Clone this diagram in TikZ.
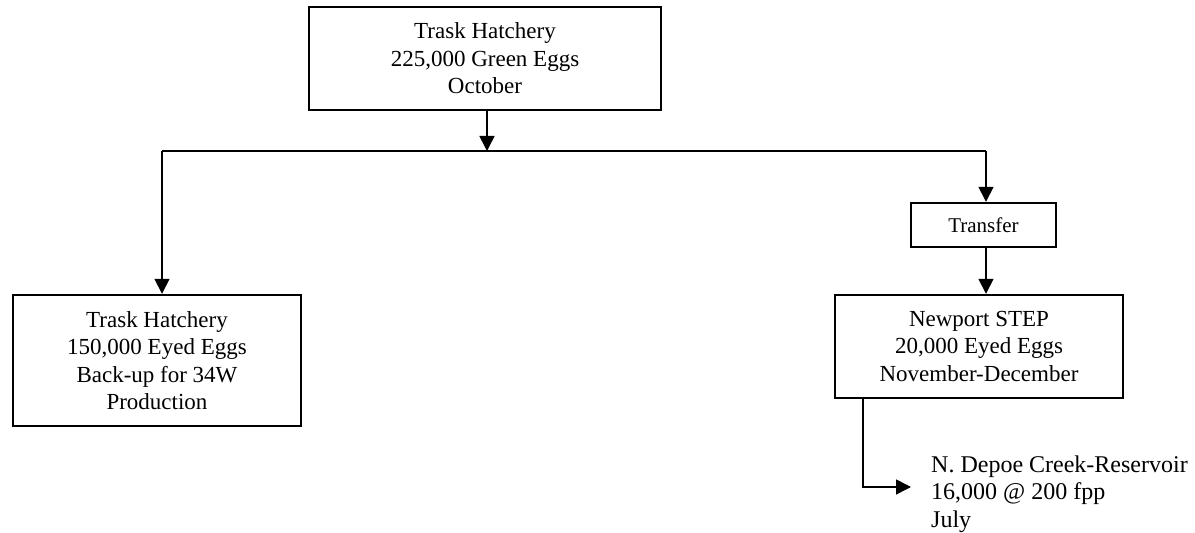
\documentclass[tikz,border=0pt]{standalone}
\usepackage{fontspec}
\setmainfont{Liberation Serif}
\usetikzlibrary{arrows.meta}
\begin{document}
\begin{tikzpicture}
  [x=0.5pt,y=-0.5pt,
   every node/.style={draw,line width=1.2pt,align=center,inner sep=0pt,
     font=\fontsize{11.5}{13.75}\selectfont},
   arr/.style={line width=0.8pt,-{Triangle[length=7.5pt,width=7.5pt]}}]
  \useasboundingbox (0,0) rectangle (1195,533);
  \node[minimum width=176pt,minimum height=51.5pt] (n1) at (485,58.5)
    {Trask Hatchery\\225,000 Green Eggs\\October};
  \node[minimum width=144pt,minimum height=65.5pt] (n2) at (157,360.5)
    {Trask Hatchery\\150,000 Eyed Eggs\\Back-up for 34W\\Production};
  \node[minimum width=72.5pt,minimum height=22pt,font=\fontsize{10.5}{12}\selectfont] (n3) at (983.5,225) {Transfer};
  \node[minimum width=144pt,minimum height=51.5pt] (n4) at (979,346.5)
    {Newport STEP\\20,000 Eyed Eggs\\November-December};
  \node[draw=none,anchor=west,align=left,inner xsep=9.5pt,
    font=\fontsize{12}{13.75}\selectfont] (n5) at (911,494)
    {N. Depoe Creek-Reservoir\\16,000 @ 200 fpp\\July};

  \coordinate (c0) at (487,151);
  \coordinate (c1) at (162,151);
  \coordinate (c2) at (986,151);
  \coordinate (c3) at (863,487);

  \draw[line width=0.8pt] (c1) -- (c2);
  \draw[arr] (n1.south -| c0) -- (c0);
  \foreach \from/\to in {c1/n2,c2/n3}
    \draw[arr] (\from) -- (\from |- \to.north);
  \draw[arr] (n3.south -| c2) -- (n4.north -| c2);
  \draw[arr] (n4.south -| c3) |- (n5.west |- c3);
\end{tikzpicture}
\end{document}
